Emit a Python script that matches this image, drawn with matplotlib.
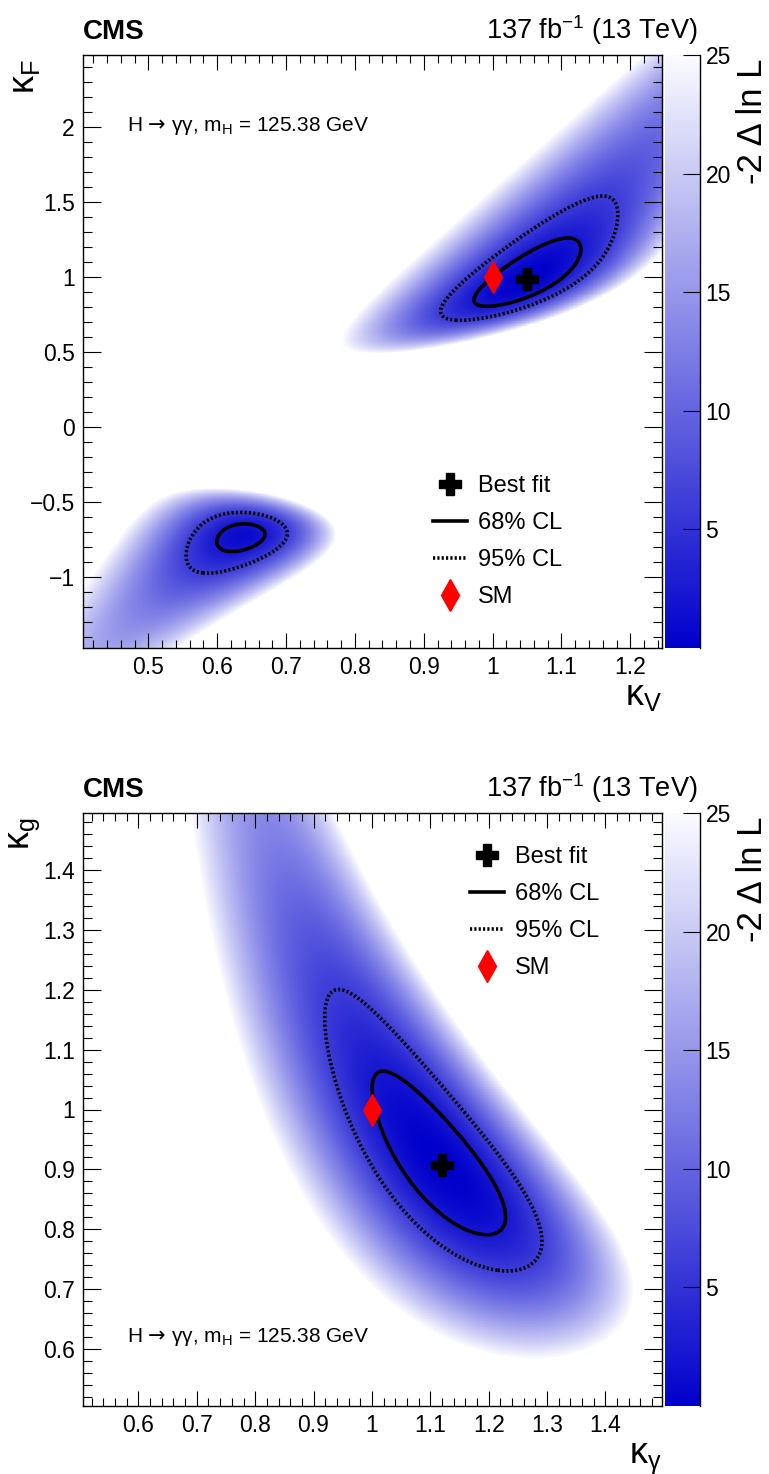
import numpy as np
import matplotlib.pyplot as plt
from matplotlib.colors import LinearSegmentedColormap
from matplotlib.lines import Line2D
from matplotlib.ticker import MultipleLocator, FuncFormatter

plt.rcParams['font.family'] = 'Liberation Sans'
plt.rcParams['mathtext.fontset'] = 'custom'
plt.rcParams['mathtext.rm'] = 'Liberation Sans'
plt.rcParams['mathtext.it'] = 'Liberation Sans:italic'
plt.rcParams['mathtext.bf'] = 'Liberation Sans:bold'
plt.rcParams['mathtext.sf'] = 'DejaVu Sans'

# ---- top panel: kappa_V vs kappa_F ----
kv_range = [0.405, 1.246]
kf_range = [-1.47, 2.48]
kvkf_best = [1.05, 0.99]
kvkf_sm = [1.0, 1.0]
gam_coef = [1.65, 0.07, -0.72]     # kV^2, kF^2, kV*kF terms of the H->gg width
width_coef = [0.25, 0.75]          # kV^2, kF^2 terms of the total width
vh_interf = 0.2084
th_coef = [3.58, 2.63, -5.21]      # tH-like rate: kV^2, kF^2, kV*kF
mu_fv = [1.105, 1.258]             # fermion-like, vector-like signal strengths
err_fv = [0.107, 0.265]
rho_fv = -0.15
mu_th = 1.249
err_th = 9.2

# ---- bottom panel: kappa_gamma vs kappa_g ----
kgam_range = [0.505, 1.497]
kg_range = [0.505, 1.495]
kgkg_best = [1.12, 0.907]
kgkg_sm = [1.0, 1.0]
width_gg = [0.25, 0.0023]          # kg^2, kgamma^2 share of total width
mu_gg = [1.080, 1.313]             # ggH, other production
err_gg = [0.103, 0.22]
rho_gg = 0.016

zmax = 25
cl_levels = [2.30, 5.99]
leg_labels = ['Best fit', '68% CL', '95% CL', 'SM']


def chi2(m1, m2, mu, err, rho):
    d1 = (m1 - mu[0]) / err[0]
    d2 = (m2 - mu[1]) / err[1]
    return (d1**2 - 2 * rho * d1 * d2 + d2**2) / (1 - rho**2)


# scan grids
kv = np.linspace(kv_range[0], kv_range[1], 700)
kf = np.linspace(kf_range[0], kf_range[1], 900)
KV, KF = np.meshgrid(kv, kf)
gam2 = gam_coef[0] * KV**2 + gam_coef[1] * KF**2 + gam_coef[2] * KV * KF
br = gam2 / (width_coef[0] * KV**2 + width_coef[1] * KF**2)
mu_f = KF**2 * br
mu_v = (KV**2 * (1 + vh_interf) - vh_interf * KV * KF) * br
mu_t = (th_coef[0] * KV**2 + th_coef[1] * KF**2 + th_coef[2] * KV * KF) * br
nll_top = chi2(mu_f, mu_v, mu_fv, err_fv, rho_fv) + ((mu_t - mu_th) / err_th)**2
nll_top -= nll_top.min()

kga = np.linspace(kgam_range[0], kgam_range[1], 800)
kgl = np.linspace(kg_range[0], kg_range[1], 800)
KA, KG = np.meshgrid(kga, kgl)
wid = 1 + width_gg[0] * (KG**2 - 1) + width_gg[1] * (KA**2 - 1)
mu_ggh = KG**2 * KA**2 / wid
mu_oth = KA**2 / wid
nll_bot = chi2(mu_ggh, mu_oth, mu_gg, err_gg, rho_gg)
nll_bot -= nll_bot.min()

cmap = LinearSegmentedColormap.from_list('bw', ['#0000cc', '#fbfbff'])

W, H = 769, 1474
fig = plt.figure(figsize=(W / 100, H / 100), dpi=100)


def fx(x):
    return x / W


def fy(y):
    return 1 - y / H


fmt = FuncFormatter(lambda v, p: f'{v:g}'.replace('-', '\u2212'))


def panel(top, xr, yr, X, Y, Z, best, sm, xmaj, xmin, ymaj, ymin,
          xlabel, ylabel, txt_y, leg_xy):
    bottom = top + 593
    ax = fig.add_axes([fx(83), fy(bottom), fx(662 - 83), (bottom - top) / H])
    cax = fig.add_axes([fx(665), fy(bottom), fx(35), (bottom - top) / H])
    im = ax.imshow(np.ma.masked_greater(Z, zmax), origin='lower',
                   extent=[xr[0], xr[1], yr[0], yr[1]], aspect='auto',
                   cmap=cmap, vmin=0, vmax=zmax, interpolation='nearest')
    ax.contour(X, Y, Z, levels=[cl_levels[0]], colors='k', linewidths=2.6)
    ax.contour(X, Y, Z, levels=[cl_levels[1]], colors='k', linewidths=2.6,
               linestyles=[(0, (0.6, 0.6))])
    ax.plot(sm[0], sm[1], marker='d', ms=16, color='red', ls='none', zorder=5)
    ax.plot(best[0], best[1], marker='P', ms=16, color='k', ls='none', zorder=6)
    ax.set_xlim(xr)
    ax.set_ylim(yr)
    ax.xaxis.set_major_locator(MultipleLocator(xmaj))
    ax.xaxis.set_minor_locator(MultipleLocator(xmin))
    ax.yaxis.set_major_locator(MultipleLocator(ymaj))
    ax.yaxis.set_minor_locator(MultipleLocator(ymin))
    ax.xaxis.set_major_formatter(fmt)
    ax.yaxis.set_major_formatter(fmt)
    ax.tick_params(which='both', direction='in', top=True, right=True,
                   labelsize=16.5, width=0.8)
    ax.tick_params(axis='x', which='major', length=11, pad=6)
    ax.tick_params(axis='x', which='minor', length=5.5)
    ax.tick_params(axis='y', which='major', length=13, pad=6)
    ax.tick_params(axis='y', which='minor', length=6.5)
    for s in ax.spines.values():
        s.set_linewidth(1)

    cb = fig.colorbar(im, cax=cax)
    cb.set_ticks([5, 10, 15, 20, 25])
    cb.outline.set_visible(False)
    cax.tick_params(direction='in', length=12, width=0.8, labelsize=16.5, pad=4)
    cax.spines['right'].set_visible(True)
    cax.spines['right'].set_linewidth(1)

    fig.text(fx(83), fy(top - 16), 'CMS', fontsize=20, fontweight='bold',
             ha='left', va='baseline')
    fig.text(fx(697), fy(top - 16), '137 fb$^{-1}$ (13 TeV)', fontsize=19.5,
             ha='right', va='baseline')
    fig.text(fx(752), fy(top + 4), '-2 \u0394 ln L', fontsize=25,
             rotation=90, ha='center', va='top')
    fig.text(fx(662), fy(bottom + 57), xlabel, fontsize=26, ha='right',
             va='baseline')
    fig.text(fx(25), fy(top + 4), ylabel, fontsize=26, rotation=90,
             ha='center', va='top')
    fig.text(fx(127), fy(txt_y),
             'H $\\mathsf{\u2192}$ \u03b3\u03b3, m$_\\mathrm{H}$ = 125.38 GeV',
             fontsize=15, ha='left', va='baseline')

    handles = [Line2D([], [], marker='P', color='k', ls='none', ms=16),
               Line2D([], [], color='k', lw=2.6),
               Line2D([], [], color='k', lw=2.6, ls=(0, (0.6, 0.6))),
               Line2D([], [], marker='d', color='red', ls='none', ms=16)]
    ax.legend(handles, leg_labels, loc='upper left',
              bbox_to_anchor=(fx(leg_xy[0]), fy(leg_xy[1])),
              bbox_transform=fig.transFigure, frameon=False, fontsize=17,
              handlelength=1.45, handletextpad=0.45, labelspacing=0.64,
              borderpad=0, borderaxespad=0)
    return ax


panel(55, kv_range, kf_range, KV, KF, nll_top, kvkf_best, kvkf_sm,
      0.1, 0.02, 0.5, 0.1, '\u03ba$_\\mathrm{V}$', '\u03ba$_\\mathrm{F}$',
      131, (433, 475))
panel(813, kgam_range, kg_range, KA, KG, nll_bot, kgkg_best, kgkg_sm,
      0.1, 0.02, 0.1, 0.02, '\u03ba$_\\mathrm{\\gamma}$', '\u03ba$_\\mathrm{g}$',
      1342, (470, 846))

fig.savefig('out.png', dpi=100)
